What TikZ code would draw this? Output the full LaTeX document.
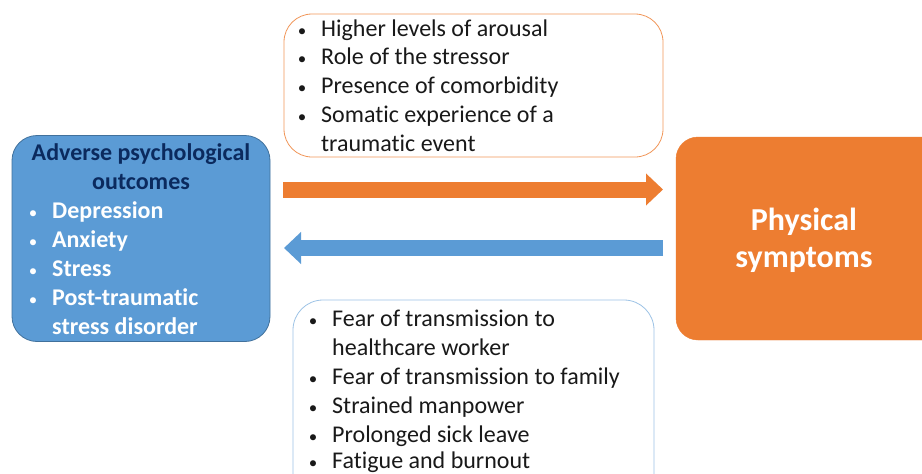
\documentclass[tikz,border=0pt]{standalone}
\usepackage{fontspec}
\setmainfont{Carlito}[Ligatures=NoCommon]
\usetikzlibrary{arrows.meta, calc}

\definecolor{outblue}{HTML}{5B9BD5}
\definecolor{outblueline}{HTML}{41719C}
\definecolor{symorange}{HTML}{ED7D31}
\definecolor{titlenavy}{HTML}{0B2A5E}
\definecolor{listblue}{HTML}{9DC3E6}

\begin{document}
\begin{tikzpicture}[x=1pt, y=-1pt,
    every node/.style={inner sep=0pt},
    item/.style={font=\fontsize{24}{29}\selectfont, text=black!90, anchor=base west},
    dot/.style={font=\fontsize{17}{22}\selectfont, text=black!90, anchor=base},
    bolditem/.style={font=\fontsize{24}{29}\selectfont\bfseries, text=white, anchor=base west},
    bigarrow/.style={line width=16pt, -{Triangle[length=17pt,width=31pt]}}]
    % Canvas
    \clip (0,0) rectangle (922,474);
    \fill[white] (0,0) rectangle (922,474);

    % Boxes
    \node[draw=outblueline, fill=outblue, rounded corners=25pt, line width=0.8pt,
          minimum width=258pt, minimum height=206pt] (outcomes) at (141,238.5) {};
    \node[draw=symorange, fill=symorange, rounded corners=22pt,
          minimum width=270pt, minimum height=203pt] (symptoms) at (811,238.5) {};
    \node[draw=symorange!80, fill=white, rounded corners=28pt, line width=0.8pt,
          minimum width=379pt, minimum height=143pt] (factors) at (473.5,85.5) {};
    \node[draw=listblue, fill=white, rounded corners=30pt, line width=0.8pt,
          minimum width=361pt, minimum height=220pt] (workplace) at (473.5,410) {};

    % Arrows between the two outcomes
    \coordinate (fwd-start) at (283,189.5);
    \coordinate (fwd-end) at (663,189.5);
    \coordinate (back-start) at (663,248);
    \coordinate (back-end) at (284,248);
    \draw[bigarrow, symorange] (fwd-start) -- (fwd-end);
    \draw[bigarrow, outblue] (back-start) -- (back-end);

    % Left box text
    \node[font=\fontsize{24}{29}\selectfont\bfseries, text=titlenavy, anchor=base] (outtitle1) at (141,160) {Adverse psychological};
    \node[font=\fontsize{24}{29}\selectfont\bfseries, text=titlenavy, anchor=base] (outtitle2) at (141,189) {outcomes};
    \foreach \y/\t [count=\i] in {218/Depression, 247/Anxiety, 276/Stress, 305/Post-traumatic, 334/stress disorder}
    {
        \node[bolditem] (outitem\i) at (52,\y) {\t};
    }
    \foreach \y [count=\i] in {218,247,276,305}
    {
        \node[dot, text=white] (outdot\i) at (33,\y) {\textbullet};
    }

    % Right box text
    \node[font=\fontsize{32}{38}\selectfont\bfseries, text=white, anchor=base] (symtext1) at (804,230) {Physical};
    \node[font=\fontsize{32}{38}\selectfont\bfseries, text=white, anchor=base] (symtext2) at (804,267) {symptoms};

    % Top box text
    \foreach \y/\t [count=\i] in {36/Higher levels of arousal, 64/Role of the stressor, 93/Presence of comorbidity, 122/Somatic experience of a, 151/traumatic event}
    {
        \node[item] (factor\i) at (321,\y) {\t};
    }
    \foreach \y [count=\i] in {36,64,93,122}
    {
        \node[dot] (factordot\i) at (302,\y) {\textbullet};
    }

    % Bottom box text
    \foreach \y/\t [count=\i] in {326/Fear of transmission to, 355/healthcare worker, 384/Fear of transmission to family, 413/Strained manpower, 442/Prolonged sick leave, 468/Fatigue and burnout}
    {
        \node[item] (work\i) at (332,\y) {\t};
    }
    \foreach \y [count=\i] in {326,384,413,442,468}
    {
        \node[dot] (workdot\i) at (313,\y) {\textbullet};
    }
\end{tikzpicture}
\end{document}
